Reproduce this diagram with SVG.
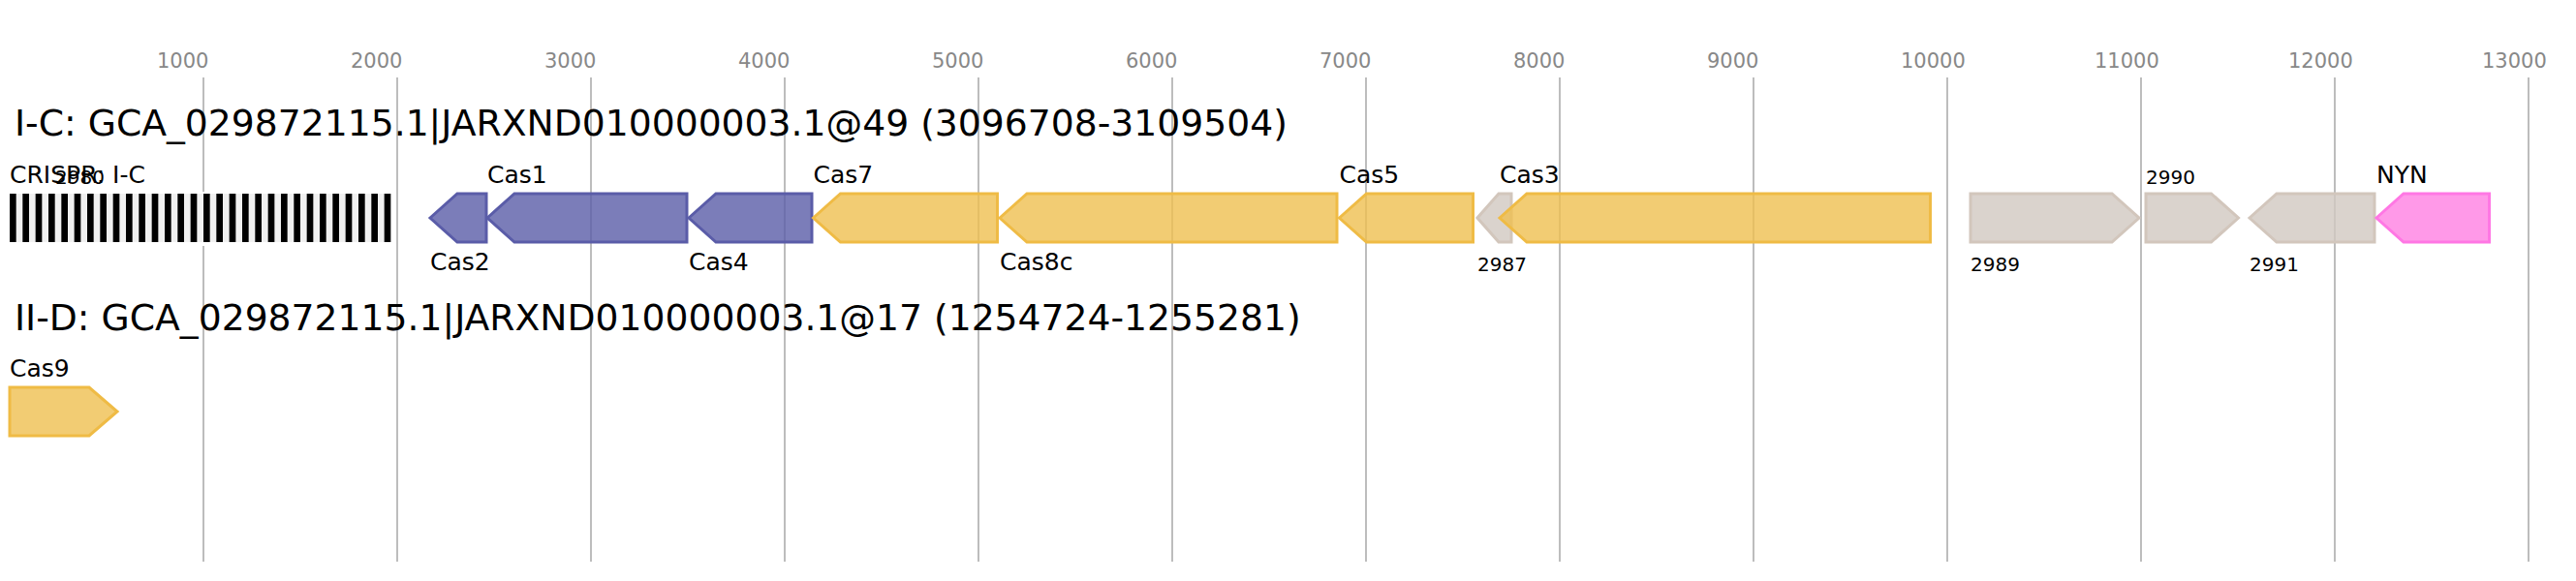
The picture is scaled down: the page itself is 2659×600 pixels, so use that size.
<svg xmlns="http://www.w3.org/2000/svg" width="2659" height="600" viewBox="0 0 2659 600">
<style>
text{font-family:"DejaVu Sans","Liberation Sans",sans-serif;fill:#000}
.tick{font-size:21px;fill:#888}
.grid{stroke:#bdbdbd;stroke-width:2}
.title{font-size:37.7px}
.lbl{font-size:25px}
.sm{font-size:20px}
.g{stroke-width:3;stroke-linejoin:miter;fill-opacity:0.8}
.blue{fill:#5a5ca8;stroke:#5a5ca8}
.yel{fill:#efbf50;stroke:#efbb45}
.gray{fill:#d1c8c0;stroke:#d2c6bc}
.pink{fill:#ff80e2;stroke:#ff77e4}
</style>
<rect width="2659" height="600" fill="#fff"/>
<g id="axis">
<g class="grid">
<line x1="210" y1="80" x2="210" y2="580"/>
<line x1="410" y1="80" x2="410" y2="580"/>
<line x1="610" y1="80" x2="610" y2="580"/>
<line x1="810" y1="80" x2="810" y2="580"/>
<line x1="1010" y1="80" x2="1010" y2="580"/>
<line x1="1210" y1="80" x2="1210" y2="580"/>
<line x1="1410" y1="80" x2="1410" y2="580"/>
<line x1="1610" y1="80" x2="1610" y2="580"/>
<line x1="1810" y1="80" x2="1810" y2="580"/>
<line x1="2010" y1="80" x2="2010" y2="580"/>
<line x1="2210" y1="80" x2="2210" y2="580"/>
<line x1="2410" y1="80" x2="2410" y2="580"/>
<line x1="2610" y1="80" x2="2610" y2="580"/>
</g>
<text class="tick" x="162" y="70">1000</text>
<text class="tick" x="362" y="70">2000</text>
<text class="tick" x="562" y="70">3000</text>
<text class="tick" x="762" y="70">4000</text>
<text class="tick" x="962" y="70">5000</text>
<text class="tick" x="1162" y="70">6000</text>
<text class="tick" x="1362" y="70">7000</text>
<text class="tick" x="1562" y="70">8000</text>
<text class="tick" x="1762" y="70">9000</text>
<text class="tick" x="1962" y="70">10000</text>
<text class="tick" x="2162" y="70">11000</text>
<text class="tick" x="2362" y="70">12000</text>
<text class="tick" x="2562" y="70">13000</text>
</g>
<g id="title-IC"><text class="title" x="15" y="140">I-C: GCA_029872115.1|JARXND010000003.1@49 (3096708-3109504)</text></g>
<g id="title-IID"><text class="title" x="15" y="341">II-D: GCA_029872115.1|JARXND010000003.1@17 (1254724-1255281)</text></g>
<g id="crispr">
<rect x="10" y="198" width="394" height="56" fill="#fff"/>
<rect x="10" y="200" width="393.3" height="50" fill="#f0f0f0"/>
<path fill="#000" d="M10 200h6.67v50h-6.67zM23.33 200h6.67v50h-6.67zM36.67 200h6.67v50h-6.67zM50 200h6.67v50h-6.67zM63.33 200h6.67v50h-6.67zM76.67 200h6.67v50h-6.67zM90 200h6.67v50h-6.67zM103.33 200h6.67v50h-6.67zM116.67 200h6.67v50h-6.67zM130 200h6.67v50h-6.67zM143.33 200h6.67v50h-6.67zM156.67 200h6.67v50h-6.67zM170 200h6.67v50h-6.67zM183.33 200h6.67v50h-6.67zM196.67 200h6.67v50h-6.67zM210 200h6.67v50h-6.67zM223.33 200h6.67v50h-6.67zM236.67 200h6.67v50h-6.67zM250 200h6.67v50h-6.67zM263.33 200h6.67v50h-6.67zM276.67 200h6.67v50h-6.67zM290 200h6.67v50h-6.67zM303.33 200h6.67v50h-6.67zM316.67 200h6.67v50h-6.67zM330 200h6.67v50h-6.67zM343.33 200h6.67v50h-6.67zM356.67 200h6.67v50h-6.67zM370 200h6.67v50h-6.67zM383.33 200h6.67v50h-6.67zM396.67 200h6.67v50h-6.67z"/>
<text class="lbl" x="10" y="189">CRISPR: I-C</text>
<text class="sm" x="57" y="190">2980</text>
</g>
<g id="cas2"><path class="g blue" d="M444 225L472 200H502V250H472Z"/><text class="lbl" x="444" y="279">Cas2</text></g>
<g id="cas1"><path class="g blue" d="M503 225L531 200H709V250H531Z"/><text class="lbl" x="503" y="189">Cas1</text></g>
<g id="cas4"><path class="g blue" d="M711 225L739 200H838V250H739Z"/><text class="lbl" x="711" y="279">Cas4</text></g>
<g id="cas7"><path class="g yel" d="M839.5 225L867.5 200H1029.5V250H867.5Z"/><text class="lbl" x="839.5" y="189">Cas7</text></g>
<g id="cas8c"><path class="g yel" d="M1032 225L1060 200H1380V250H1060Z"/><text class="lbl" x="1032" y="279">Cas8c</text></g>
<g id="cas5"><path class="g yel" d="M1382.5 225L1410.5 200H1520.5V250H1410.5Z"/><text class="lbl" x="1382.5" y="189">Cas5</text></g>
<g id="g2987"><path class="g gray" d="M1525 225L1547 200H1560V250H1547Z"/><text class="sm" x="1525" y="280">2987</text></g>
<g id="cas3"><path class="g yel" d="M1548 225L1576 200H1992.5V250H1576Z"/><text class="lbl" x="1548" y="189">Cas3</text></g>
<g id="g2989"><path class="g gray" d="M2034 200H2180L2208 225L2180 250H2034Z"/><text class="sm" x="2034" y="280">2989</text></g>
<g id="g2990"><path class="g gray" d="M2215 200H2282.5L2310.5 225L2282.5 250H2215Z"/><text class="sm" x="2215" y="190">2990</text></g>
<g id="g2991"><path class="g gray" d="M2322 225L2350 200H2451V250H2350Z"/><text class="sm" x="2322" y="280">2991</text></g>
<g id="nyn"><path class="g pink" d="M2453 225L2481 200H2569.5V250H2481Z"/><text class="lbl" x="2453" y="189">NYN</text></g>
<g id="cas9"><path class="g yel" d="M10 400H92L121 425L92 450H10Z"/><text class="lbl" x="10" y="389">Cas9</text></g>
<g id="connectors"/>
</svg>
